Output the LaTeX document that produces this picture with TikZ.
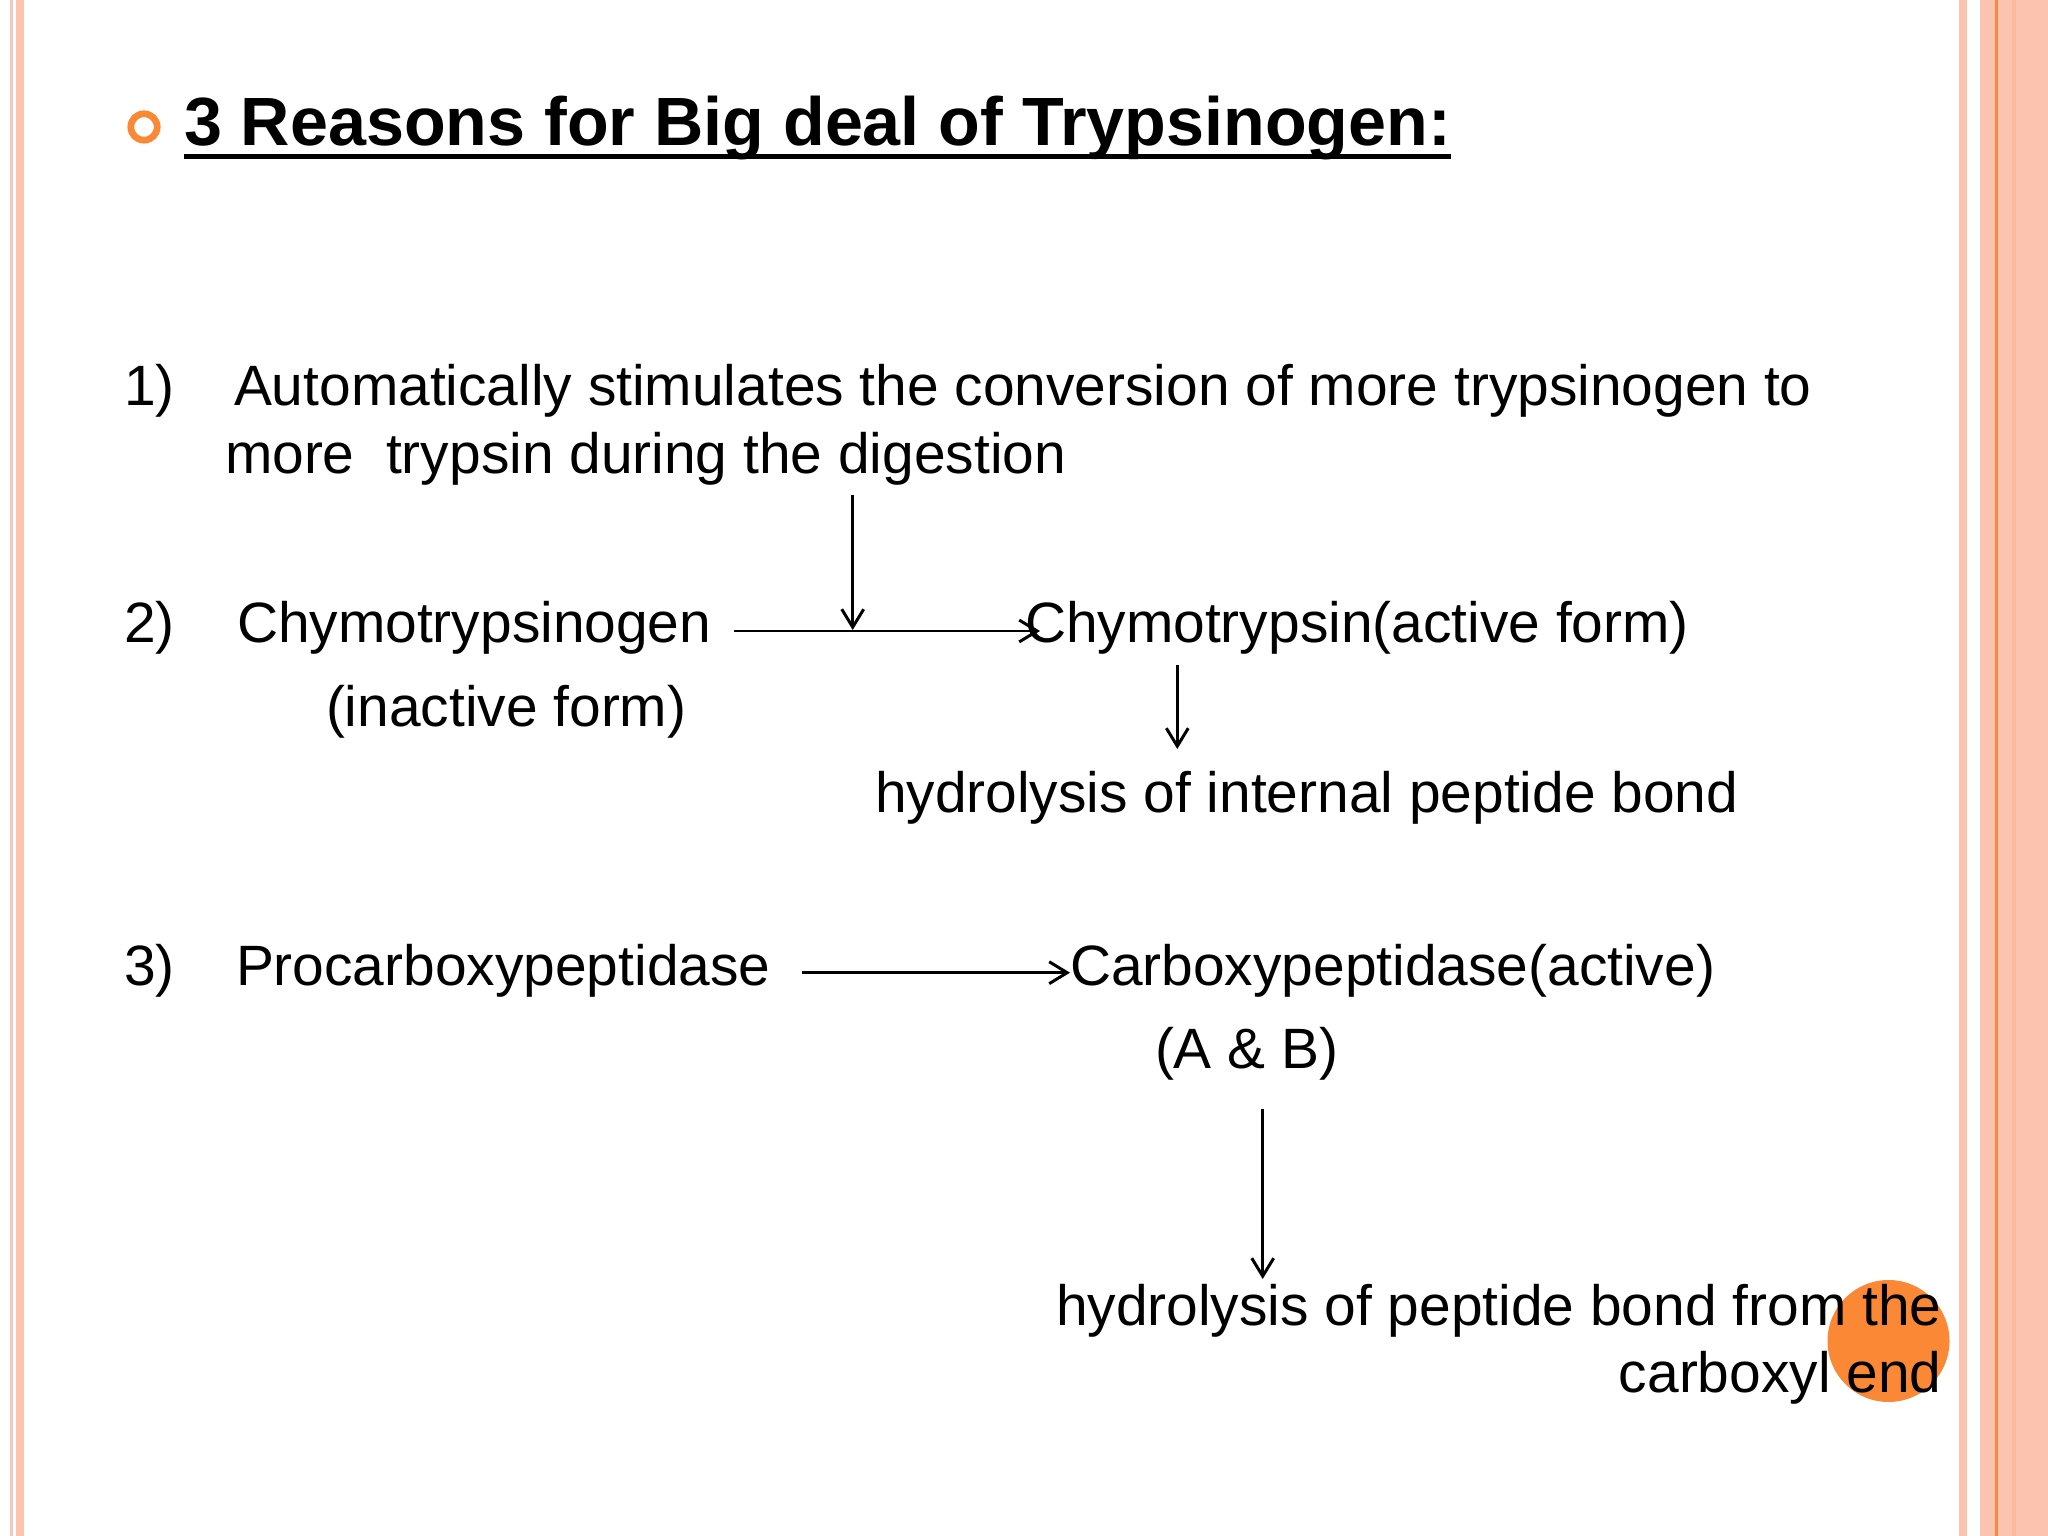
\documentclass[tikz,border=0pt]{standalone}
\usepackage{fontspec}
\setmainfont{Liberation Sans}
\usetikzlibrary{arrows.meta}
\definecolor{salmon}{RGB}{252,196,174}
\definecolor{pinkline}{RGB}{246,198,190}
\definecolor{orangeA}{RGB}{250,136,52}
\definecolor{orangeline}{RGB}{244,140,70}
\definecolor{salmondark}{RGB}{249,186,160}
\begin{document}
\begin{tikzpicture}[x=0.3515625pt,y=-0.3515625pt,
  txt/.style={inner sep=0pt, outer sep=0pt, font=\fontsize{20}{24}\selectfont, anchor=base west},
  ttl/.style={inner sep=0pt, outer sep=0pt, font=\fontsize{24}{29}\selectfont\bfseries, anchor=base west},
  arr/.style={line width=1.05pt, -{Straight Barb[length=6.3pt,width=7.7pt]}}]
\useasboundingbox (0,0) rectangle (2048,1536);
\fill[white] (0,0) rectangle (2048,1536);
% borders
\fill[pinkline] (10,0) rectangle (12.5,1536);
\fill[salmon] (15.7,0) rectangle (23.7,1536);
\fill[salmon] (1958.7,0) rectangle (1966.7,1536);
\fill[salmon] (1979.7,0) rectangle (2048,1536);
\fill[orangeline] (1995.3,0) rectangle (1997.7,1536);
\fill[salmondark] (2011.7,0) rectangle (2016,1536);
% bullet and title
\draw[orangeA, line width=2.36pt] (144,127) circle[radius=13.2];
\node[ttl] (title) at (184,146) {3 Reasons for Big deal of Trypsinogen:};
\draw[line width=1.6pt] ([yshift=-3.7pt]title.base west) -- ([yshift=-3.7pt]title.base east);
% item 1
\node[txt] (n1) at (124,406) {1)};
\node[txt] (t1a) at (234,406) {Automatically stimulates the conversion of more trypsinogen to};
\node[txt] (t1b) at (225,474) {more\ \ trypsin during the digestion};
% item 2
\node[txt] (n2) at (124,643) {2)};
\node[txt] (chyg) at (237,643) {Chymotrypsinogen};
\node[txt] (inact) at (326,727) {(inactive form)};
\node[txt] (chy) at (1025,643) {Chymotrypsin(active form)};
\node[txt] (hyd1) at (875,812) {hydrolysis of internal peptide bond};
% item 3
\node[txt] (n3) at (124,985) {3)};
\node[txt] (pro) at (236,985) {Procarboxypeptidase};
\node[txt] (carb) at (1070,985) {Carboxypeptidase(active)};
\node[txt] (ab) at (1155,1068) {(A \& B)};
% orange dot
\fill[orangeA] (1888.5,1341) circle[radius=61];
\node[txt, anchor=base east] (hyd2a) at (1941.5,1325) {hydrolysis of peptide bond from the};
\node[txt, anchor=base east] (hyd2b) at (1941.5,1392) {carboxyl end};
% arrows
\coordinate (a1s) at (734,631); \coordinate (a1e) at (1040,631);
\coordinate (v1s) at (852.7,495); \coordinate (v1e) at (852.7,630);
\coordinate (v2s) at (1177.3,665); \coordinate (v2e) at (1177.3,749);
\coordinate (a3s) at (802,972.7); \coordinate (a3e) at (1070,972.7);
\coordinate (v3s) at (1262.7,1109); \coordinate (v3e) at (1262.7,1279);
\draw[arr] (a1s) -- (a1e);
\draw[arr] (v1s) -- (v1e);
\draw[arr] (v2s) -- (v2e);
\draw[arr] (a3s) -- (a3e);
\draw[arr] (v3s) -- (v3e);
\end{tikzpicture}
\end{document}
